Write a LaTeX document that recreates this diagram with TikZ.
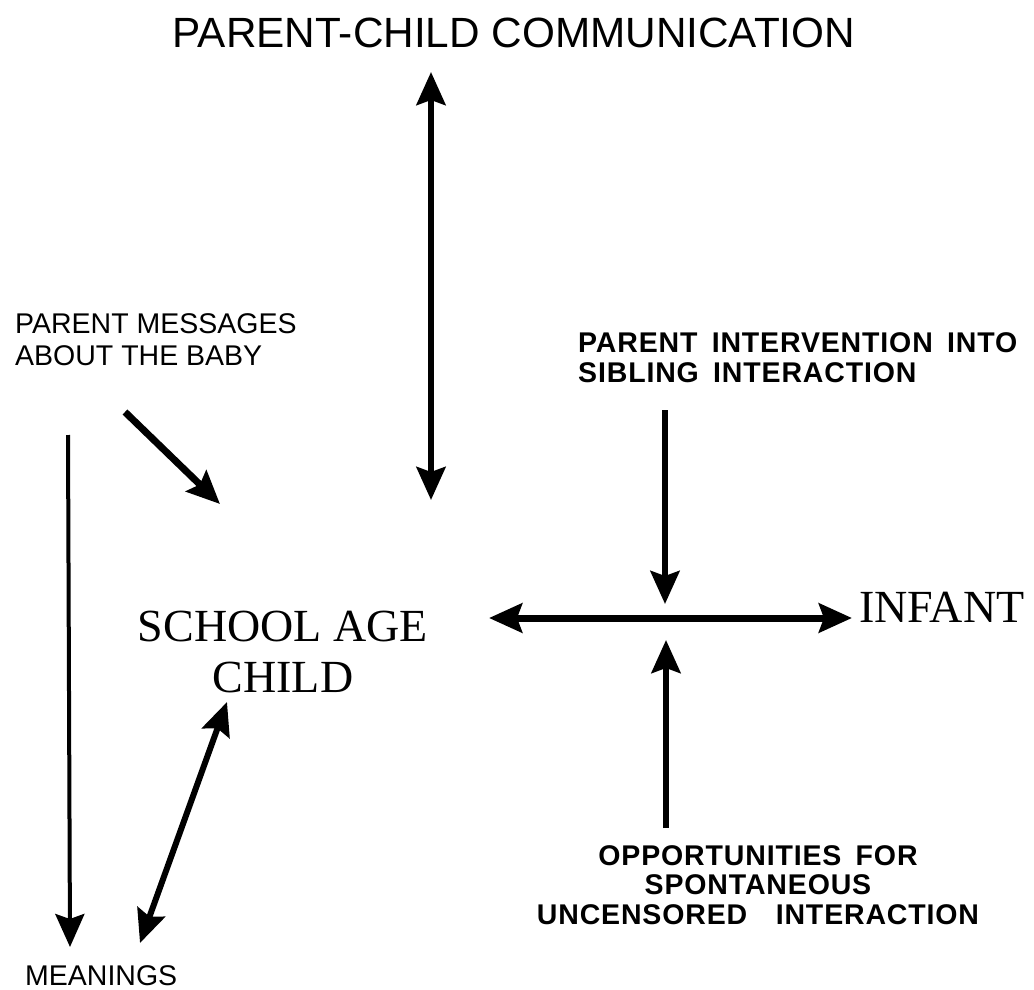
\documentclass[tikz,border=0pt]{standalone}
\usepackage{fontspec}
\setmainfont{Liberation Serif}
\setsansfont{Liberation Sans}
\newfontfamily\tracked[LetterSpace=3]{Liberation Sans}
\usetikzlibrary{arrows.meta}

\begin{document}
\begin{tikzpicture}[x=1pt,y=-1pt]
  \tikzset{ ttl/.style={inner sep=0pt,anchor=base,font=\sffamily\fontsize{42.3}{48}\selectfont},
    lbl/.style={inner sep=0pt,anchor=base west,align=left,font=\sffamily\fontsize{28.5}{32}\selectfont},
    bld/.style={inner sep=0pt,anchor=base,font=\tracked\bfseries\fontsize{28.5}{29.5}\selectfont},
    srf/.style={inner sep=0pt,anchor=base,align=center,font=\fontsize{46}{51}\selectfont},
    ar/.style={line width=6pt,-{Stealth[length=33pt,width=29pt,inset=5pt]}},
    dar/.style={ar,{Stealth[length=33pt,width=29pt,inset=5pt]}-{Stealth[length=33pt,width=29pt,inset=5pt]}},
  }
  \useasboundingbox (0,0) rectangle (1034,990);

  \node[ttl] (PC) at (514,48) {PARENT-CHILD COMMUNICATION};
  \node[lbl] (PM) at (15,365) {PARENT MESSAGES\\ABOUT THE BABY};
  \node[lbl] (M) at (25,985) {MEANINGS};
  \node[srf] (C) at (283,692) {SCHOOL AGE\\CHILD};
  \node[srf,anchor=base west] (I) at (859,622) {INFANT};
  \node[bld,anchor=base west,align=left] (PI) at (578,382)
    {PARENT\hspace{0.5em}INTERVENTION\hspace{0.5em}INTO\\SIBLING\hspace{0.5em}INTERACTION};
  \node[bld,align=center] (OP) at (758,924)
    {OPPORTUNITIES\hspace{0.5em}FOR\\SPONTANEOUS\\UNCENSORED\hspace{1em}INTERACTION};

  % the ends of the arrows
  \coordinate (pcA) at (431,72);   \coordinate (pcB) at (431,500);
  \coordinate (pmA) at (125,412);  \coordinate (pmB) at (220,504);
  \coordinate (mA) at (68,435);    \coordinate (mB) at (70,947);
  \coordinate (cmA) at (140,943);  \coordinate (cmB) at (227,702);
  \coordinate (ciA) at (489,618);  \coordinate (ciB) at (852,618);
  \coordinate (piA) at (665,410);  \coordinate (piB) at (665,604);
  \coordinate (opA) at (666,828);  \coordinate (opB) at (666,640);

  \draw[dar] (pcA) -- (pcB);
  \draw[ar,line width=7pt] (pmA) -- (pmB);
  \draw[ar,line width=4pt] (mA) -- (mB);
  \draw[dar] (cmA) -- (cmB);
  \draw[dar,line width=7pt] (ciA) -- (ciB);
  \draw[ar] (piA) -- (piB);
  \draw[ar] (opA) -- (opB);
\end{tikzpicture}
\end{document}
